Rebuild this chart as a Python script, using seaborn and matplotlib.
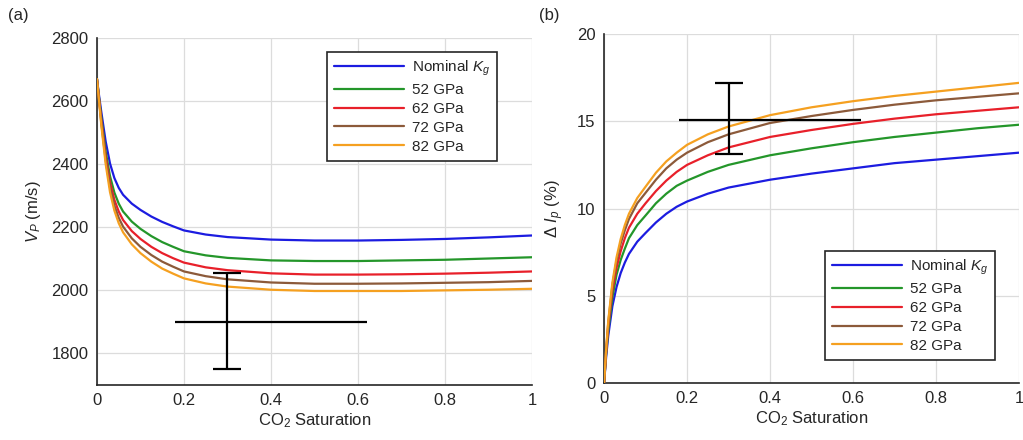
import numpy as np
import pandas as pd
import seaborn as sns
import matplotlib
matplotlib.use("Agg")
import matplotlib.pyplot as plt

### Data ###

sat = [0, 0.005, 0.01, 0.02, 0.03, 0.04, 0.05, 0.06, 0.08, 0.1, 0.125, 0.15, 0.175,
       0.2, 0.25, 0.3, 0.4, 0.5, 0.6, 0.7, 0.8, 0.9, 1.0]
labels = ["Nominal $K_g$", "52 GPa", "62 GPa", "72 GPa", "82 GPa"]
colors = ["#1c1ce0", "#24962a", "#e8202a", "#8c5a3a", "#f5a020"]

vp_nominal = [2670, 2615, 2565, 2472, 2402, 2356, 2325, 2303, 2275, 2255, 2234, 2217, 2203,
              2190, 2177, 2169, 2161, 2158, 2158, 2160, 2163, 2168, 2174]
vp_52 = [2670, 2607, 2547, 2440, 2362, 2310, 2275, 2250, 2218, 2195, 2172, 2153, 2138,
         2124, 2111, 2103, 2095, 2093, 2093, 2095, 2097, 2101, 2105]
vp_62 = [2670, 2603, 2538, 2425, 2342, 2287, 2250, 2223, 2188, 2163, 2138, 2118, 2102,
         2088, 2073, 2064, 2054, 2050, 2050, 2051, 2053, 2056, 2060]
vp_72 = [2670, 2600, 2530, 2412, 2326, 2269, 2230, 2202, 2165, 2138, 2112, 2091, 2075,
         2060, 2045, 2035, 2025, 2021, 2021, 2022, 2024, 2026, 2030]
vp_82 = [2670, 2597, 2523, 2400, 2311, 2253, 2213, 2184, 2146, 2118, 2091, 2069, 2053,
         2038, 2022, 2012, 2002, 1998, 1998, 1998, 2000, 2002, 2005]

dip_nominal = [0, 1.5, 2.7, 4.4, 5.5, 6.3, 6.9, 7.4, 8.1, 8.6, 9.2, 9.7, 10.1,
               10.4, 10.85, 11.2, 11.65, 12.0, 12.3, 12.6, 12.8, 13.0, 13.2]
dip_52 = [0, 1.7, 3.0, 4.9, 6.2, 7.05, 7.7, 8.3, 9.05, 9.6, 10.3, 10.85, 11.3,
          11.6, 12.1, 12.5, 13.05, 13.45, 13.8, 14.1, 14.35, 14.6, 14.8]
dip_62 = [0, 1.8, 3.25, 5.3, 6.6, 7.55, 8.3, 8.9, 9.7, 10.3, 11.0, 11.6, 12.1,
          12.5, 13.05, 13.5, 14.1, 14.5, 14.85, 15.15, 15.4, 15.6, 15.8]
dip_72 = [0, 1.9, 3.45, 5.6, 7.0, 8.0, 8.75, 9.4, 10.3, 10.9, 11.65, 12.3, 12.8,
          13.2, 13.8, 14.25, 14.9, 15.3, 15.65, 15.95, 16.2, 16.4, 16.6]
dip_82 = [0, 1.95, 3.55, 5.75, 7.2, 8.25, 9.05, 9.7, 10.6, 11.25, 12.05, 12.7, 13.2,
          13.65, 14.25, 14.7, 15.35, 15.8, 16.15, 16.45, 16.7, 16.95, 17.2]

# error bars: centre, x range, y range
err_a = dict(x=0.30, y=1900, xlo=0.18, xhi=0.62, ylo=1750, yhi=2055)
err_b = dict(x=0.30, y=15.1, xlo=0.18, xhi=0.62, ylo=13.1, yhi=17.2)

### Helpers ###

def to_long(series_list):
    frames = []
    for lab, vals in zip(labels, series_list):
        frames.append(pd.DataFrame({"sat": sat, "val": vals, "model": lab}))
    return pd.concat(frames, ignore_index=True)

def draw_err(ax, e):
    ax.errorbar(e["x"], e["y"], yerr=[[e["y"] - e["ylo"]], [e["yhi"] - e["y"]]],
                fmt="none", ecolor="black", elinewidth=1.6, capsize=10, capthick=1.6, zorder=5)
    ax.errorbar(e["x"], e["y"], xerr=[[e["x"] - e["xlo"]], [e["xhi"] - e["x"]]],
                fmt="none", ecolor="black", elinewidth=1.6, capsize=0, zorder=5)

def style_ax(ax):
    for side in ["top", "right"]:
        ax.spines[side].set_visible(False)
    for side in ["left", "bottom"]:
        ax.spines[side].set_color("#262626")
        ax.spines[side].set_linewidth(1.2)
    ax.tick_params(direction="in", length=4, width=1.0, colors="#262626",
                   labelsize=12, labelcolor="#262626", pad=6)
    ax.grid(True, color="#dcdcdc", linewidth=0.9)
    ax.set_xlim(0, 1)
    ax.set_xticks([0, 0.2, 0.4, 0.6, 0.8, 1])
    ax.set_xticklabels(["0", "0.2", "0.4", "0.6", "0.8", "1"])

### Plot ###

sns.set_theme(style="whitegrid")
plt.rcParams["font.family"] = ["Liberation Sans", "DejaVu Sans"]
plt.rcParams["mathtext.fontset"] = "custom"
plt.rcParams["mathtext.rm"] = "Liberation Sans"
plt.rcParams["mathtext.it"] = "Liberation Sans:italic"

fig = plt.figure(figsize=(10.23, 4.40), dpi=100)
ax_a = fig.add_axes([0.0948, 0.125, 0.4252, 0.7886])
ax_b = fig.add_axes([0.5905, 0.1295, 0.4055, 0.7932])

df_a = to_long([vp_nominal, vp_52, vp_62, vp_72, vp_82])
df_b = to_long([dip_nominal, dip_52, dip_62, dip_72, dip_82])

for ax, df in [(ax_a, df_a), (ax_b, df_b)]:
    sns.lineplot(data=df, x="sat", y="val", hue="model", hue_order=labels,
                 palette=colors, linewidth=1.6, ax=ax, zorder=3)

draw_err(ax_a, err_a)
draw_err(ax_b, err_b)

style_ax(ax_a)
ax_a.set_ylim(1700, 2800)
ax_a.set_yticks([1800, 2000, 2200, 2400, 2600, 2800])
ax_a.set_xlabel("CO$_2$ Saturation", fontsize=12, color="#262626", labelpad=2)
ax_a.set_ylabel("$V_P$ (m/s)", fontsize=12, color="#262626", labelpad=6)

style_ax(ax_b)
ax_b.set_ylim(0, 20)
ax_b.set_yticks([0, 5, 10, 15, 20])
ax_b.set_xlabel("CO$_2$ Saturation", fontsize=12, color="#262626", labelpad=2)
ax_b.set_ylabel("Δ $I_p$ (%)", fontsize=12, color="#262626", labelpad=8)

leg_a = ax_a.legend(loc="upper right", bbox_to_anchor=(0.937, 0.982), fontsize=11,
                    frameon=True, fancybox=False, edgecolor="#262626",
                    handlelength=4.6, labelspacing=0.32, borderpad=0.45, handletextpad=0.5)
leg_b = ax_b.legend(loc="lower right", bbox_to_anchor=(0.96, 0.045), fontsize=11,
                    frameon=True, fancybox=False, edgecolor="#262626",
                    handlelength=4.6, labelspacing=0.32, borderpad=0.45, handletextpad=0.5)
for leg in [leg_a, leg_b]:
    leg.get_frame().set_linewidth(1.2)
    leg.get_frame().set_facecolor("white")
    leg.get_frame().set_alpha(1)
    for t in leg.get_texts():
        t.set_color("#262626")

fig.text(0.008, 0.955, "(a)", fontsize=12, color="#262626")
fig.text(0.527, 0.955, "(b)", fontsize=12, color="#262626")

fig.savefig("out.png", dpi=100)
